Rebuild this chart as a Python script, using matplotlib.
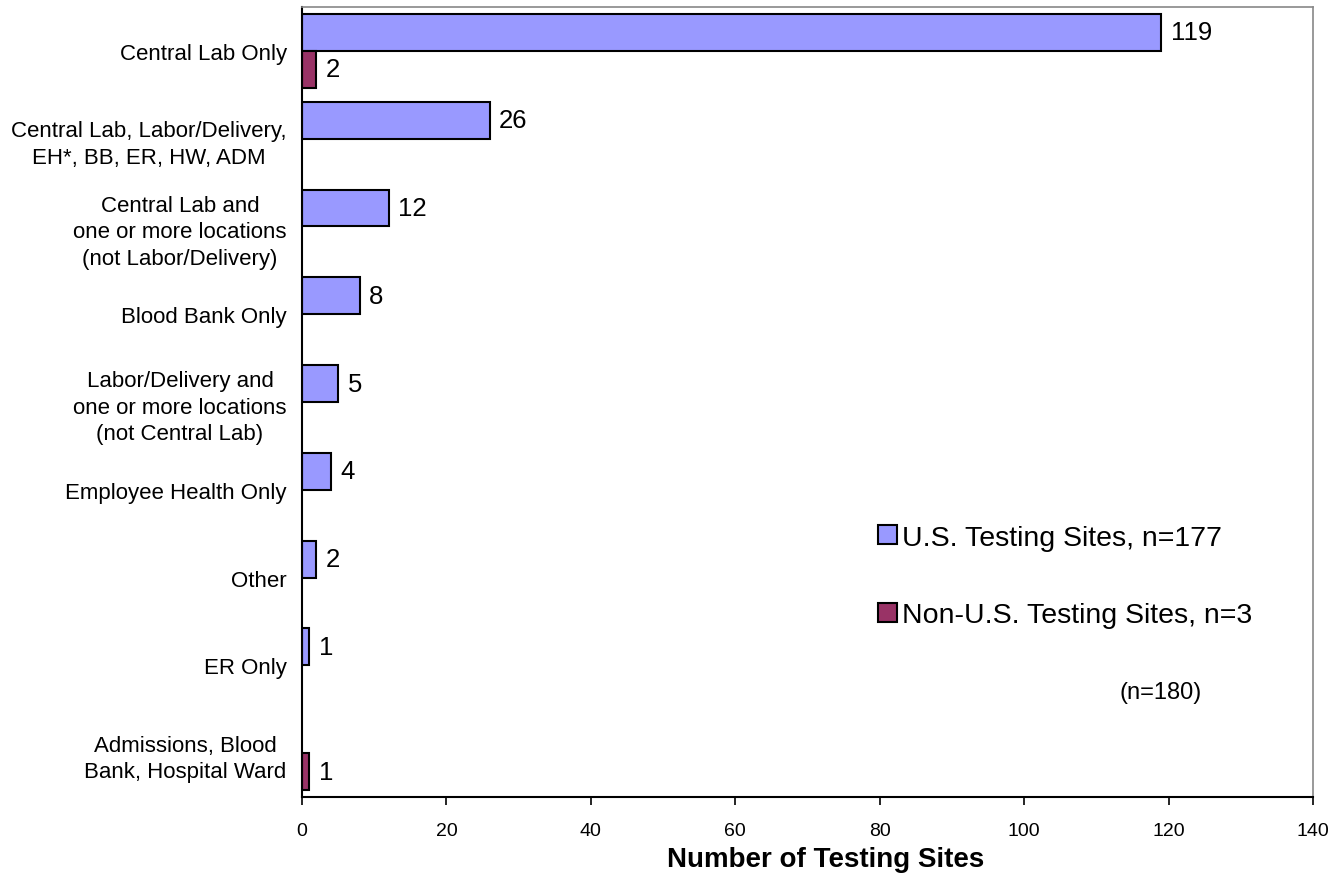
import matplotlib.pyplot as plt
import numpy as np

plt.rcParams['font.family'] = ['Liberation Sans', 'DejaVu Sans']

categories = ['Central Lab Only',
              'Central Lab, Labor/Delivery,\nEH*, BB, ER, HW, ADM',
              'Central Lab and\none or more locations\n(not Labor/Delivery)',
              'Blood Bank Only',
              'Labor/Delivery and\none or more locations\n(not Central Lab)',
              'Employee Health Only',
              'Other',
              'ER Only',
              'Admissions, Blood\nBank, Hospital Ward']
us_sites = [119, 26, 12, 8, 5, 4, 2, 1, 0]
non_us_sites = [2, 0, 0, 0, 0, 0, 0, 0, 1]
series_names = ['U.S. Testing Sites, n=177', 'Non-U.S. Testing Sites, n=3']
colors = ['#9999FF', '#993366']

fig = plt.figure(figsize=(13.44, 8.79), dpi=100)
ax = fig.add_axes([0.2247, 0.0922, 0.7522, 0.8987])

y = np.arange(len(categories))
h = 0.42
for vals, off, col, name in [(us_sites, -h / 2, colors[0], series_names[0]),
                             (non_us_sites, h / 2, colors[1], series_names[1])]:
    vals = np.array(vals)
    shown = vals > 0
    ax.barh(y[shown] + off, vals[shown], height=h, color=col,
            edgecolor='black', linewidth=1.5, label=name)
    for yy, v in zip(y[shown] + off, vals[shown]):
        ax.text(v + 1.3, yy, str(v), va='center', ha='left', fontsize=18.5)

ax.set_ylim(len(categories) - 0.5, -0.5)
ax.set_xlim(0, 140)
ax.set_xticks(range(0, 141, 20))
ax.tick_params(axis='x', labelsize=14, length=6, width=1.2, direction='out', pad=12)
ax.set_yticks(y)
ax.set_yticklabels(categories, fontsize=16, ha='right', multialignment='center',
                   linespacing=1.35)
ax.tick_params(axis='y', length=0, pad=11)
ax.set_xlabel('Number of Testing Sites', fontsize=20, fontweight='bold')
ax.xaxis.set_label_coords(0.518, -0.062)

for s in ['top', 'right']:
    ax.spines[s].set_color('#888888')
    ax.spines[s].set_linewidth(1.2)
for s in ['left', 'bottom']:
    ax.spines[s].set_color('black')
    ax.spines[s].set_linewidth(1.5)

leg = ax.legend(loc='center left', bbox_to_anchor=(0.57, 0.279), frameon=False,
                fontsize=20.5, handlelength=0.65, handleheight=0.65,
                handletextpad=0.2, labelspacing=1.8, borderaxespad=0,
                borderpad=0)
ax.text(0.809, 0.133, '(n=180)', transform=ax.transAxes, fontsize=17,
        ha='left', va='center')

fig.savefig('out.png', dpi=100)
